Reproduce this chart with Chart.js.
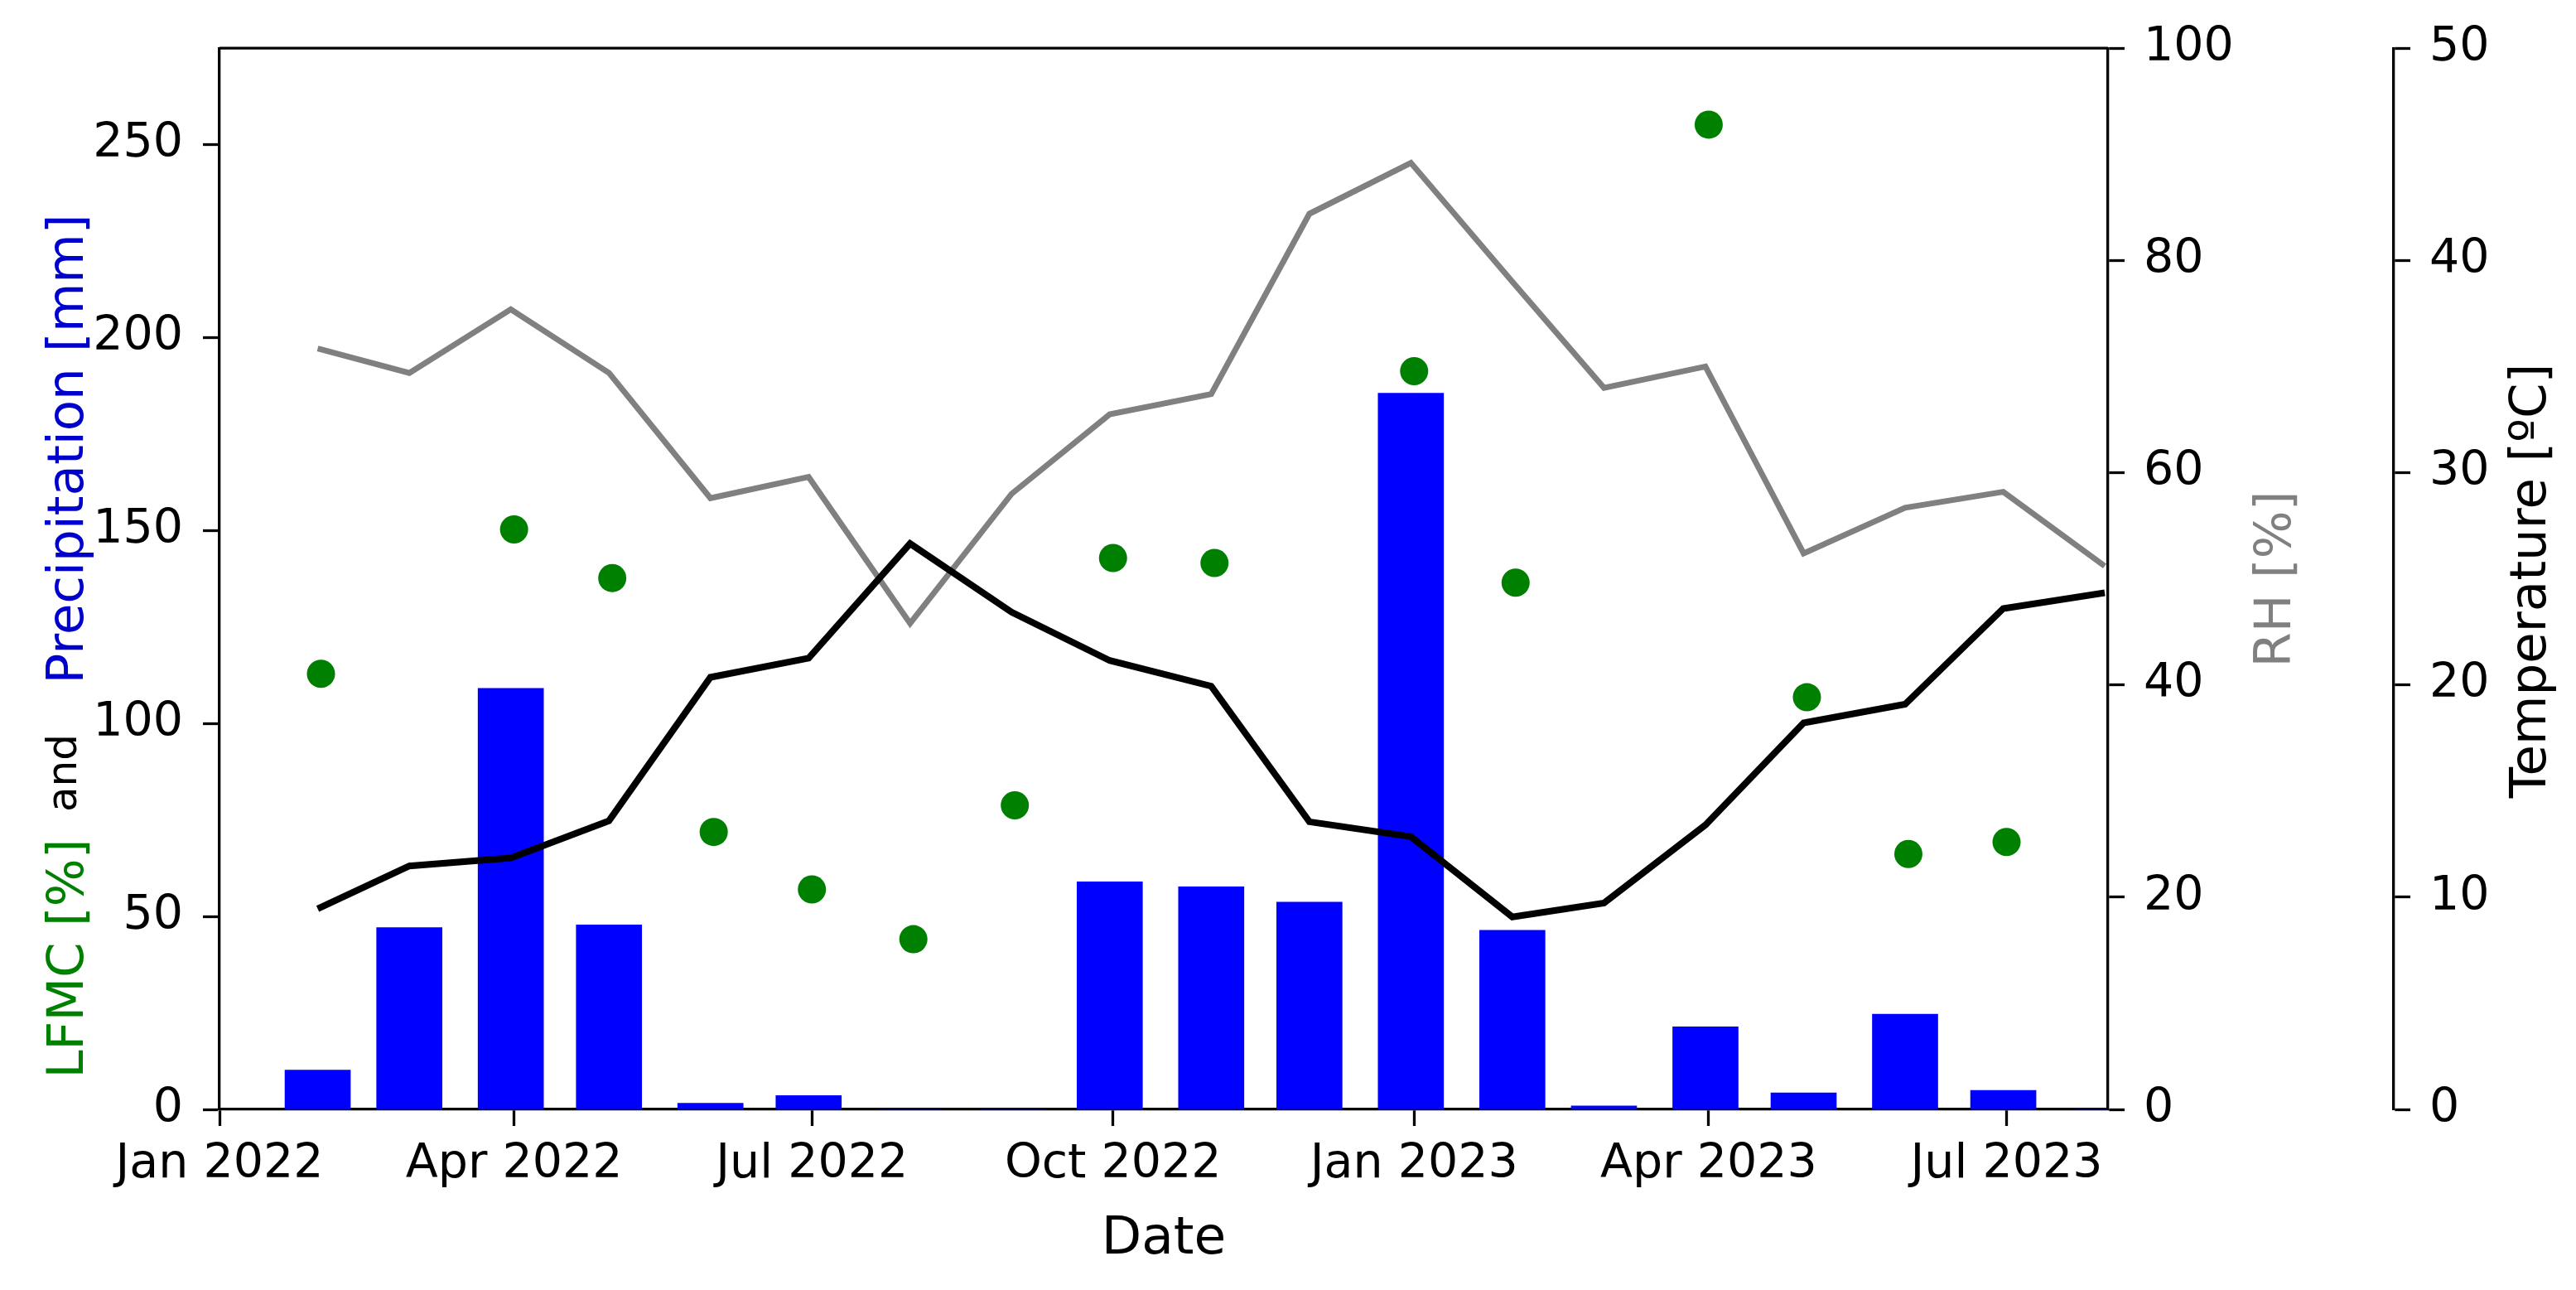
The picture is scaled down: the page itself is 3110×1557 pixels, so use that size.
<!DOCTYPE html>
<html>
<head>
<meta charset="utf-8">
<title>LFMC, precipitation, RH and temperature</title>
<script src="https://cdn.jsdelivr.net/npm/chart.js@4.4.0/dist/chart.umd.min.js"></script>
<style>
	html, body { margin: 0; padding: 0; background: #fff; }
	canvas { display: block; }
</style>
</head>
<body>
<canvas id="lfmcChart" width="3110" height="1557"></canvas>
<script>
// monthly values are stored at the end of each month (bars and lines)
var monthDates = ['2022-01-31', '2022-02-28', '2022-03-31', '2022-04-30', '2022-05-31', '2022-06-30',
	'2022-07-31', '2022-08-31', '2022-09-30', '2022-10-31', '2022-11-30', '2022-12-31',
	'2023-01-31', '2023-02-28', '2023-03-31', '2023-04-30', '2023-05-31', '2023-06-30', '2023-07-31'];
var precipitation = [10.2, 47.1, 109.1, 47.8, 1.6, 3.6, 0, 0, 59.0, 57.7, 53.7, 185.6,
	46.4, 0.9, 21.4, 4.3, 24.7, 4.9, 0];
var relHumidity = [71.7, 69.4, 75.4, 69.4, 57.6, 59.6, 45.8, 58.0, 65.5, 67.4, 84.4, 89.2,
	78.0, 68.0, 70.0, 52.4, 56.7, 58.2, 51.2];
var temperature = [9.45, 11.47, 11.85, 13.6, 20.36, 21.26, 26.66, 23.43, 21.15, 19.94, 13.55, 12.85,
	9.07, 9.72, 13.4, 18.21, 19.09, 23.6, 24.34];

// LFMC samples (first day of the month)
var lfmcDates = ['2022-02-01', '2022-04-01', '2022-05-01', '2022-06-01', '2022-07-01', '2022-08-01',
	'2022-09-01', '2022-10-01', '2022-11-01', '2023-01-01', '2023-02-01', '2023-04-01',
	'2023-05-01', '2023-06-01', '2023-07-01'];
var lfmc = [112.9, 150.3, 137.7, 71.9, 57.0, 44.1, 78.8, 142.9, 141.6, 191.3, 136.5, 255.2, 106.8, 66.2, 69.3];

var tickDates = ['2022-01-01', '2022-04-01', '2022-07-01', '2022-10-01', '2023-01-01', '2023-04-01', '2023-07-01'];
var tickLabels = ['Jan 2022', 'Apr 2022', 'Jul 2022', 'Oct 2022', 'Jan 2023', 'Apr 2023', 'Jul 2023'];
var xStart = '2022-01-01';
var xEnd = '2023-08-01';

function dayNumber(s) {
	var p = s.split('-');
	return (Date.UTC(+p[0], +p[1] - 1, +p[2]) - Date.UTC(2022, 0, 1)) / 86400000;
}
function toPoints(dates, values) {
	var pts = [];
	for (var i = 0; i < dates.length; i++) {
		pts.push({ x: dayNumber(dates[i]), y: values[i] });
	}
	return pts;
}

var FONT = 'DejaVu Sans';
var tickFont = { family: FONT, size: 57 };
var tickDays = tickDates.map(dayNumber);

function axisGrid() {
	return { drawOnChartArea: false, drawTicks: true, tickLength: 20, tickWidth: 3.3, tickColor: '#000', offset: false };
}
function axisBorder() {
	return { display: true, color: '#000', width: 3.3 };
}

// titles: matplotlib style rotated labels, the left one in three colours
var titlesPlugin = {
	id: 'titles',
	afterDraw: function(chart) {
		var ctx = chart.ctx;
		var area = chart.chartArea;
		ctx.save();
		ctx.fillStyle = '#000';
		ctx.strokeStyle = '#000';
		ctx.lineWidth = 3.3;
		ctx.beginPath();
		ctx.moveTo(area.left, area.top);
		ctx.lineTo(area.right, area.top);
		ctx.stroke();

		ctx.textBaseline = 'alphabetic';
		ctx.textAlign = 'center';
		ctx.font = '63px "' + FONT + '"';
		ctx.fillText('Date', (area.left + area.right) / 2, 1513);

		function vText(text, x, y, size, color) {
			ctx.save();
			ctx.translate(x, y);
			ctx.rotate(-Math.PI / 2);
			ctx.font = size + 'px "' + FONT + '"';
			ctx.fillStyle = color;
			ctx.textAlign = 'center';
			ctx.fillText(text, 0, 0);
			ctx.restore();
		}
		vText('LFMC [%]', 100, 1157, 61, '#008000');
		vText('and', 92, 933, 50, '#000');
		vText('Precipitation [mm]', 100, 542, 61, '#0000cc');
		vText('RH [%]', 2765, 699, 61, '#808080');
		vText('Temperature [ºC]', 3073, 701, 61, '#000');
		ctx.restore();
	}
};

var ctx = document.getElementById('lfmcChart').getContext('2d');
var myChart = new Chart(ctx, {
	type: 'bar',
	data: {
		datasets: [{
			type: 'line',
			label: 'Temperature',
			data: toPoints(monthDates, temperature),
			yAxisID: 'yT',
			borderColor: '#000',
			borderWidth: 8,
			pointRadius: 0,
			tension: 0,
			order: 0
		}, {
			type: 'line',
			label: 'RH',
			data: toPoints(monthDates, relHumidity),
			yAxisID: 'yRH',
			borderColor: '#808080',
			borderWidth: 7,
			pointRadius: 0,
			tension: 0,
			order: 1
		}, {
			type: 'line',
			label: 'LFMC',
			data: toPoints(lfmcDates, lfmc),
			yAxisID: 'y',
			showLine: false,
			pointRadius: 17,
			pointBorderWidth: 0,
			pointBackgroundColor: '#008000',
			pointBorderColor: '#008000',
			order: 2
		}, {
			type: 'bar',
			label: 'Precipitation',
			data: toPoints(monthDates, precipitation),
			yAxisID: 'y',
			backgroundColor: '#0000ff',
			borderWidth: 0,
			barThickness: 79,
			order: 3
		}]
	},
	options: {
		responsive: false,
		animation: false,
		devicePixelRatio: 1,
		layout: { padding: { top: 54, left: 0, right: 0, bottom: 0 } },
		plugins: {
			legend: { display: false },
			tooltip: { enabled: false }
		},
		scales: {
			x: {
				type: 'linear',
				offset: false,
				min: dayNumber(xStart),
				max: dayNumber(xEnd),
				z: 1,
				grid: axisGrid(),
				border: axisBorder(),
				afterBuildTicks: function(scale) {
					scale.ticks = tickDays.map(function(v) { return { value: v }; });
				},
				afterFit: function(scale) { scale.height = 218; },
				ticks: {
					autoSkip: false,
					maxRotation: 0,
					padding: 13,
					color: '#000',
					font: tickFont,
					callback: function(value) {
						var i = tickDays.indexOf(value);
						return i < 0 ? '' : tickLabels[i];
					}
				}
			},
			y: {
				position: 'left',
				min: 0,
				max: 275,
				z: 1,
				grid: axisGrid(),
				border: axisBorder(),
				afterFit: function(scale) { scale.width = 265; },
				ticks: { stepSize: 50, includeBounds: false, padding: 24, color: '#000', font: tickFont }
			},
			yRH: {
				position: 'right',
				weight: 1,
				min: 0,
				max: 100,
				z: 1,
				grid: axisGrid(),
				border: axisBorder(),
				afterFit: function(scale) { scale.width = 345; },
				ticks: { stepSize: 20, padding: 23, color: '#000', font: tickFont }
			},
			yT: {
				position: 'right',
				weight: 2,
				min: 0,
				max: 50,
				z: 1,
				grid: axisGrid(),
				border: axisBorder(),
				afterFit: function(scale) { scale.width = 220; },
				ticks: { stepSize: 10, padding: 23, color: '#000', font: tickFont }
			}
		}
	},
	plugins: [titlesPlugin]
});
</script>
</body>
</html>
